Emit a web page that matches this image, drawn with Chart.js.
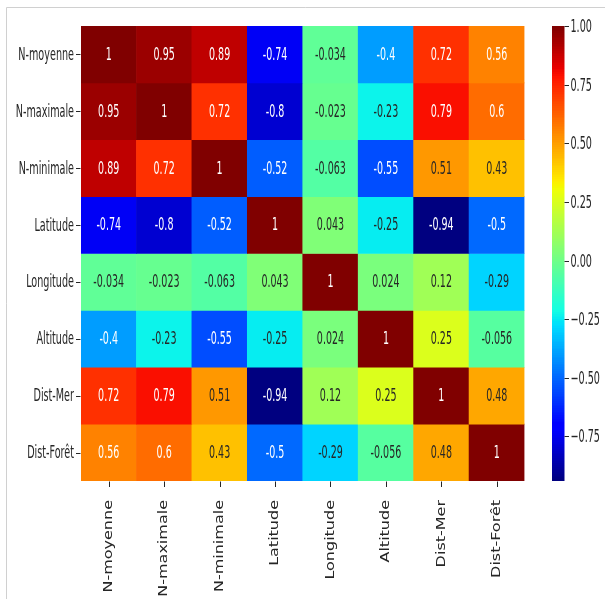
<!DOCTYPE html>
<html>
<head>
<meta charset="utf-8">
<script src="https://cdn.jsdelivr.net/npm/chart.js@4/dist/chart.umd.min.js"></script>
<style>
  html, body { margin: 0; padding: 0; background: #fff; }
  canvas { display: block; }
</style>
</head>
<body>
<canvas id="c" width="605" height="599"></canvas>
<script>
// ---- data ----
const COLUMNS = ["N-moyenne", "N-maximale", "N-minimale", "Latitude", "Longitude", "Altitude", "Dist-Mer", "Dist-Forêt"];
const ROWS = ["N-moyenne", "N-maximale", "N-minimale", "Latitude", "Longitude", "Altitude", "Dist-Mer", "Dist-Forêt"];
const ROW_NMOY = [1, 0.95, 0.89, -0.74, -0.034, -0.4, 0.72, 0.56];
const ROW_NMAX = [0.95, 1, 0.72, -0.8, -0.023, -0.23, 0.79, 0.6];
const ROW_NMIN = [0.89, 0.72, 1, -0.52, -0.063, -0.55, 0.51, 0.43];
const ROW_LAT = [-0.74, -0.8, -0.52, 1, 0.043, -0.25, -0.94, -0.5];
const ROW_LON = [-0.034, -0.023, -0.063, 0.043, 1, 0.024, 0.12, -0.29];
const ROW_ALT = [-0.4, -0.23, -0.55, -0.25, 0.024, 1, 0.25, -0.056];
const ROW_MER = [0.72, 0.79, 0.51, -0.94, 0.12, 0.25, 1, 0.48];
const ROW_FOR = [0.56, 0.6, 0.43, -0.5, -0.29, -0.056, 0.48, 1];
const MATRIX = [ROW_NMOY, ROW_NMAX, ROW_NMIN, ROW_LAT, ROW_LON, ROW_ALT, ROW_MER, ROW_FOR];
const CB_TICKS = [1.00, 0.75, 0.50, 0.25, 0.00, -0.25, -0.50, -0.75];
const CB_TICK_LABELS = ["1.00", "0.75", "0.50", "0.25", "0.00", "\u22120.25", "\u22120.50", "\u22120.75"];
const VMIN = -0.94, VMAX = 1.0;

// ---- jet colormap (matplotlib segment data) ----
const JET = {
  r: [[0,0],[0.35,0],[0.66,1],[0.89,1],[1,0.5]],
  g: [[0,0],[0.125,0],[0.375,1],[0.64,1],[0.91,0],[1,0]],
  b: [[0,0.5],[0.11,1],[0.34,1],[0.65,0],[1,0]]
};
function seg(pts, x) {
  for (let i = 1; i < pts.length; i++) {
    if (x <= pts[i][0]) {
      const [x0, y0] = pts[i-1], [x1, y1] = pts[i];
      return y0 + (y1 - y0) * (x - x0) / (x1 - x0);
    }
  }
  return pts[pts.length-1][1];
}
function jetRGB(v) {
  let t = (v - VMIN) / (VMAX - VMIN);
  let idx = Math.floor(t * 256); idx = Math.max(0, Math.min(255, idx));
  const x = idx / 255;
  return [seg(JET.r, x), seg(JET.g, x), seg(JET.b, x)];
}
function jetCSS(v) {
  const c = jetRGB(v);
  return `rgb(${Math.round(c[0]*255)},${Math.round(c[1]*255)},${Math.round(c[2]*255)})`;
}
function textColor(v) {
  const c = jetRGB(v).map(u => u <= 0.03928 ? u / 12.92 : Math.pow((u + 0.055) / 1.055, 2.4));
  const lum = 0.2126*c[0] + 0.7152*c[1] + 0.0722*c[2];
  return lum > 0.408 ? '#262626' : '#ffffff';
}

const FONT = '"DejaVu Sans", sans-serif';
function drawText(ctx, text, x, y, o) {
  ctx.save();
  ctx.translate(x, y);
  ctx.scale(o.sx || 1, 1);
  if (o.rotate) ctx.rotate(o.rotate);
  ctx.font = `${o.size}px ${FONT}`;
  ctx.fillStyle = o.color || '#262626';
  ctx.textAlign = o.align || 'center';
  ctx.textBaseline = o.baseline || 'middle';
  ctx.fillText(text, 0, 0);
  ctx.restore();
}

const heatPlugin = {
  id: 'heat',
  beforeDraw(chart) {
    const ctx = chart.ctx;
    ctx.save();
    ctx.fillStyle = '#fff';
    ctx.fillRect(0, 0, chart.width, chart.height);
    ctx.strokeStyle = '#d0d0d0';
    ctx.lineWidth = 1;
    ctx.beginPath();
    ctx.moveTo(6.5, chart.height);
    ctx.lineTo(6.5, 7.5);
    ctx.lineTo(chart.width, 7.5);
    ctx.stroke();
    ctx.restore();
  },
  afterDraw(chart) {
    const ctx = chart.ctx;
    const xs = chart.scales.x, ys = chart.scales.y, cb = chart.scales.cb;
    const area = chart.chartArea;
    // annotations
    MATRIX.forEach((row, i) => {
      row.forEach((v, j) => {
        const cx = xs.getPixelForValue(j);
        const cy = ys.getPixelForValue(i + 0.5);
        drawText(ctx, String(v), cx, cy + 1, {size: 17, sx: 0.56, color: textColor(v)});
      });
    });
    ctx.save();
    ctx.strokeStyle = '#262626';
    ctx.lineWidth = 1;
    // y ticks + labels
    ROWS.forEach((lab, i) => {
      const cy = ys.getPixelForValue(i + 0.5);
      ctx.beginPath();
      ctx.moveTo(area.left - 5, Math.round(cy) + 0.5);
      ctx.lineTo(area.left - 0.5, Math.round(cy) + 0.5);
      ctx.stroke();
      drawText(ctx, lab, area.left - 7, cy + 1, {size: 17.5, sx: 0.55, align: 'right'});
    });
    // x ticks + labels
    COLUMNS.forEach((lab, j) => {
      const cx = xs.getPixelForValue(j);
      ctx.beginPath();
      ctx.moveTo(Math.round(cx) + 0.5, area.bottom + 0.5);
      ctx.lineTo(Math.round(cx) + 0.5, area.bottom + 6);
      ctx.stroke();
      drawText(ctx, lab, cx, area.bottom + 19, {size: 16, sx: 0.77, align: 'right', rotate: -Math.PI / 2});
    });
    // colorbar
    const cbL = area.right + 27.5, cbR = area.right + 40;
    const top = cb.getPixelForValue(VMAX), bot = cb.getPixelForValue(VMIN);
    for (let y = Math.floor(top); y < Math.ceil(bot); y++) {
      const v = cb.getValueForPixel(y + 0.5);
      ctx.fillStyle = jetCSS(v);
      ctx.fillRect(cbL, y, cbR - cbL, 1);
    }
    CB_TICKS.forEach((t, k) => {
      const py = Math.round(cb.getPixelForValue(t)) + 0.5;
      ctx.beginPath();
      ctx.moveTo(cbR, py);
      ctx.lineTo(cbR + 4.5, py);
      ctx.stroke();
      drawText(ctx, CB_TICK_LABELS[k], cbR + 6, py + 1, {size: 17.5, sx: 0.55, align: 'left'});
    });
    ctx.restore();
  }
};

const datasets = ROWS.map((r, i) => ({
  label: r,
  data: COLUMNS.map(() => 1),
  backgroundColor: MATRIX[i].map(jetCSS),
  borderWidth: 0,
  barPercentage: 1,
  categoryPercentage: 1,
  stack: 'heat'
}));

new Chart(document.getElementById('c'), {
  type: 'bar',
  data: { labels: COLUMNS, datasets },
  options: {
    responsive: false,
    devicePixelRatio: 1,
    animation: false,
    layout: { padding: { left: 81, top: 26, right: 80.5, bottom: 118 } },
    plugins: { legend: { display: false }, tooltip: { enabled: false } },
    scales: {
      x: { type: 'category', stacked: true, display: false, offset: true },
      y: { type: 'linear', stacked: true, min: 0, max: 8, reverse: true, display: false },
      cb: { type: 'linear', axis: 'y', min: VMIN, max: VMAX, display: false }
    }
  },
  plugins: [heatPlugin]
});
</script>
</body>
</html>
